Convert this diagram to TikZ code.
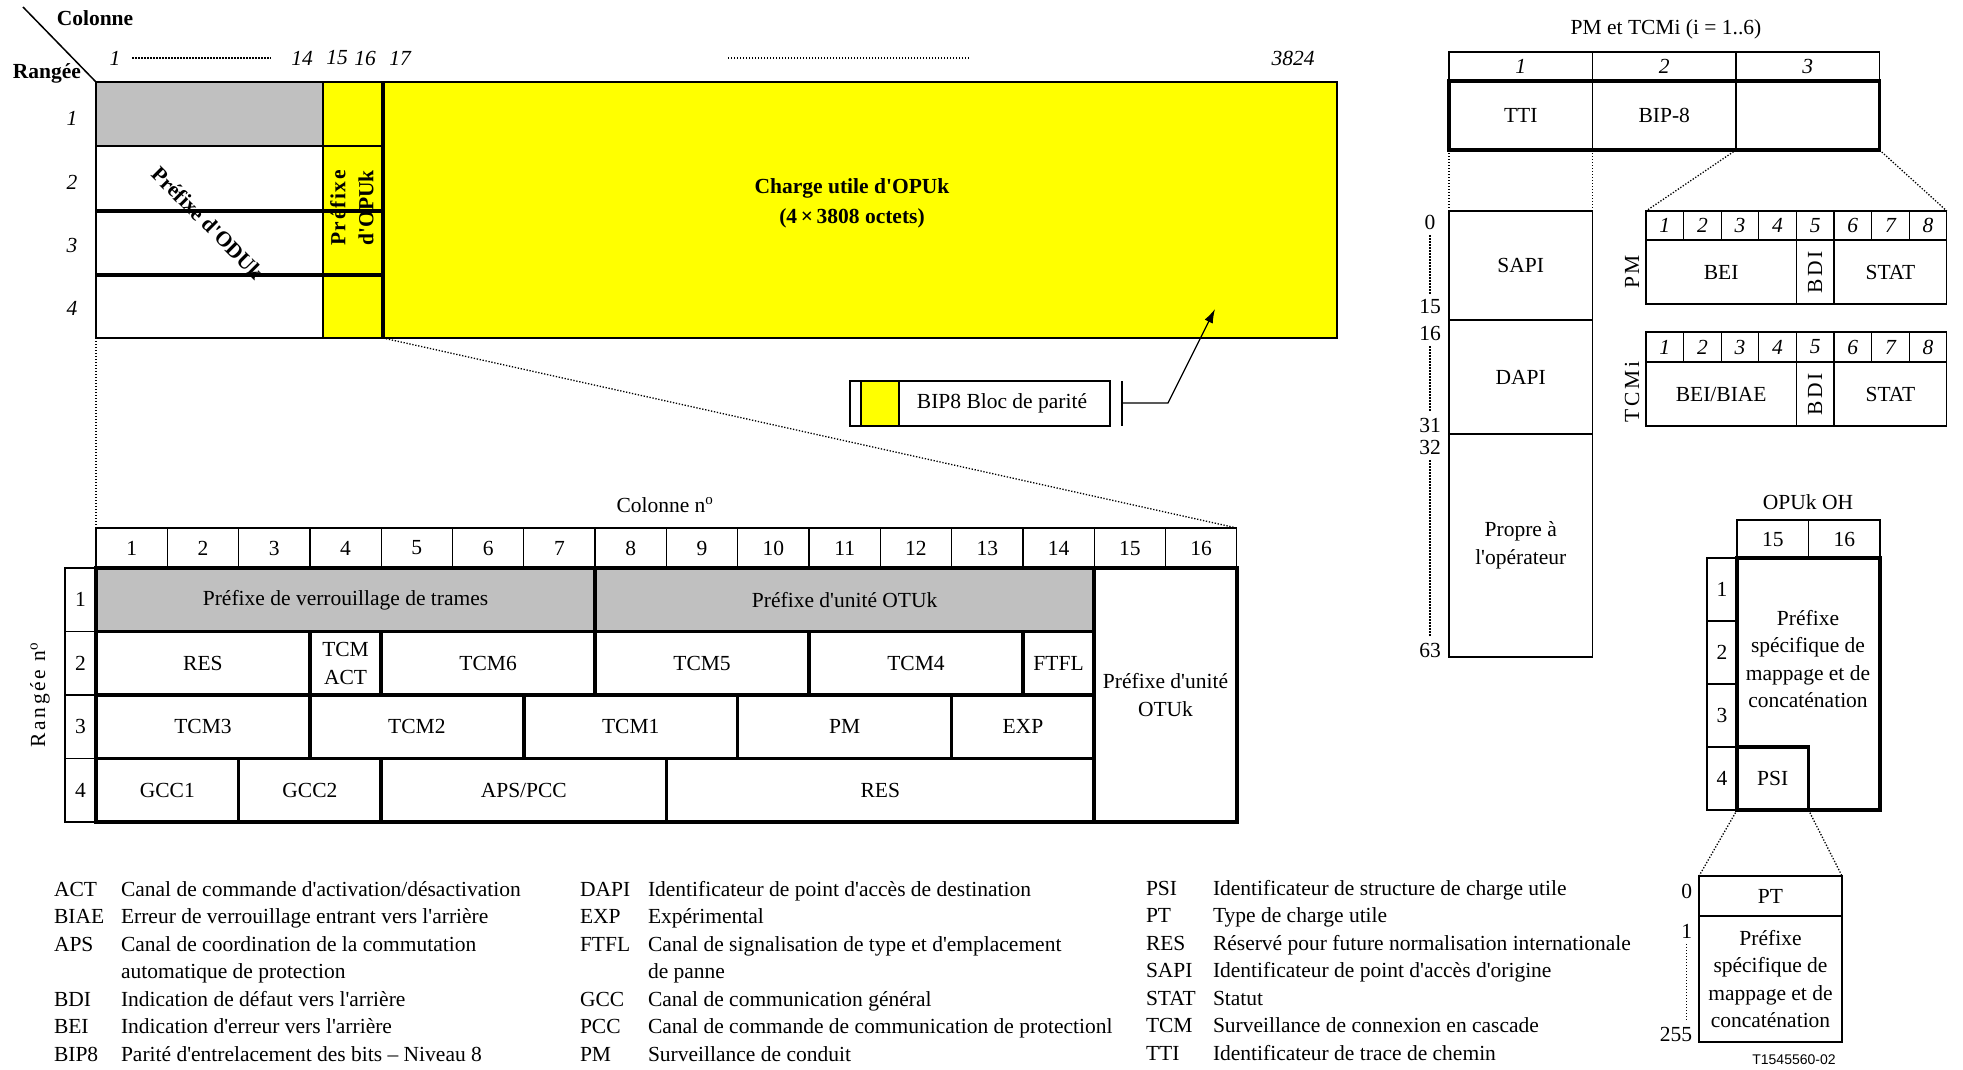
\documentclass[tikz,border=0pt]{standalone}
\usepackage{fontspec}
\setmainfont{Liberation Serif}[Ligatures=TeXOff]
\newfontfamily\figsans{Liberation Sans}
\usetikzlibrary{arrows.meta, positioning}
\definecolor{ohgray}{HTML}{C0C0C0}
\definecolor{opuyellow}{HTML}{FFFF00}

\begin{document}
\begin{tikzpicture}[
  x=1pt, y=-1pt,
  font=\fontsize{21.5}{27.5}\selectfont,
  every node/.style={inner sep=0pt, outer sep=0pt},
  cell/.style={draw, line width=1.3pt, anchor=north west, align=center},
  dat/.style={cell, line width=3.5pt},
  hdr/.style={cell, minimum height=40pt},
  num/.style={font=\fontsize{21.5}{27.5}\selectfont\itshape},
  lab/.style={font=\fontsize{21.5}{28}\selectfont\bfseries, align=center},
  spaced/.style={font=\fontsize{21.5}{27.5}\selectfont\addfontfeature{LetterSpace=12}},
  key/.style={anchor=base west},
  dots/.style={line width=1.3pt, dash pattern=on 1.3pt off 1.7pt},
  thk/.style={line width=3.5pt},
  ptr/.style={-{Latex[length=14pt, width=9pt]}, line width=1.3pt}
]
\useasboundingbox (0,0) rectangle (1963,1069);

% ODUk frame
\coordinate (corner) at (96,82);
\draw[line width=1.5pt] (corner) -- ++(-73,-75);
\node[lab] (colonne) at (95,18) {Colonne};
\node[lab] (rangee) at (47,73) {Rangée};
\node[num] (t1) at (115,58) {1};
\node[num] (t14) at (302,58) {14};
\node[num] (t15) at (337,58) {15};
\node[num] (t16) at (365,58) {16};
\node[num] (t17) at (400,58) {17};
\node[num] (t3824) at (1293,58) {3824};
\draw[dots] ([xshift=12pt]t1.east) -- ([xshift=-20pt]t14.west);
\coordinate (gapL) at (728,58);
\coordinate (gapR) at (970,58);
\draw[dots] (gapL) -- (gapR);
\foreach \r/\y in {1/118, 2/182, 3/245, 4/308}
  \node[num] (tr\r) at (72,\y) {\r};

\node[cell, fill=ohgray, minimum width=227pt, minimum height=64pt] (od1) at (corner) {};
\node[cell, minimum width=227pt, minimum height=65pt] (od2) at (od1.south west) {};
\node[cell, minimum width=227pt, minimum height=64pt] (od3) at (od2.south west) {};
\node[cell, minimum width=227pt, minimum height=63pt] (od4) at (od3.south west) {};
\node[cell, fill=opuyellow, minimum width=60pt, minimum height=256pt] (opu) at (od1.north east) {};
\node[cell, fill=opuyellow, minimum width=954pt, minimum height=256pt] (pay) at (opu.north east) {};
\draw[thk] (pay.north west) -- (pay.south west);
\draw[line width=2pt] (od1.south east) -- (od1.south east -| pay.west);
\draw[thk] (od2.south west) -- (od2.south west -| pay.west);
\draw[thk] (od3.south west) -- (od3.south west -| pay.west);
\node[lab, rotate=-45] (odulab) at (208,223) {Préfixe d'ODUk};
\node[lab, rotate=90] (opulab) at (352,208) {\addfontfeature{LetterSpace=8}Préfixe\\d'OPUk};
\node[lab, font=\fontsize{21.5}{30}\selectfont\bfseries] (paylab) at (852,203) {Charge utile d'OPUk\\(4\,×\,3808 octets)};

% BIP8 key
\node[cell, minimum width=260pt, minimum height=45pt] (bip) at (850,381) {};
\node[cell, fill=opuyellow, minimum width=38pt, minimum height=45pt] (swatch) at (861,381) {};
\node (biplab) at (1002,403) {BIP8 Bloc de parité};
\coordinate (tick) at (1122,403);
\coordinate (paritytgt) at (1215,309);
\draw[line width=1.8pt] (tick |- bip.north) -- (tick |- bip.south);
\draw[ptr] (tick) -- ++(46,0) -- (paritytgt);

% OTUk overhead
\node (colno) at (665,505) {Colonne n\textsuperscript{o}};
\foreach \i in {1,...,16}
  \node[hdr, minimum width=71.3pt] (h\i) at ({96+71.3*(\i-1)},528) {\i};
\foreach \r in {1,...,4}
  \node[cell, minimum width=31pt, minimum height=63.5pt] (rn\r) at (65,{568+63.5*(\r-1)}) {\r};
\node[spaced, rotate=90] (rangno) at (40,695) {Rangée n\textsuperscript{o}};

\foreach \cc/\ww/\lbl [count=\k] in {1/7/{Préfixe de verrouillage de trames}, 8/7/{Préfixe d'unité OTUk}}
  \node[dat, fill=ohgray, minimum width=71.3pt*\ww, minimum height=63.5pt] (ra\k) at ({96+71.3*(\cc-1)},568) {\lbl};
\foreach \cc/\ww/\lbl [count=\k] in {1/3/RES, 4/1/{TCM\\ACT}, 5/3/TCM6, 8/3/TCM5, 11/3/TCM4, 14/1/FTFL}
  \node[dat, minimum width=71.3pt*\ww, minimum height=63.5pt] (rb\k) at ({96+71.3*(\cc-1)},631.5) {\lbl};
\foreach \cc/\ww/\lbl [count=\k] in {1/3/TCM3, 4/3/TCM2, 7/3/TCM1, 10/3/PM, 13/2/EXP}
  \node[dat, minimum width=71.3pt*\ww, minimum height=63.5pt] (rc\k) at ({96+71.3*(\cc-1)},695) {\lbl};
\foreach \cc/\ww/\lbl [count=\k] in {1/2/GCC1, 3/2/GCC2, 5/4/{APS/PCC}, 9/6/RES}
  \node[dat, minimum width=71.3pt*\ww, minimum height=63.5pt] (rd\k) at ({96+71.3*(\cc-1)},758.5) {\lbl};
\node[dat, minimum width=142.6pt, minimum height=254pt] (otuk) at (h15.south west) {Préfixe d'unité\\OTUk};

\draw[dots] (od4.south west) -- (h1.north west);
\draw[dots] (opu.south east) -- (h16.north east);

% PM and TCMi
\node (pmtitle) at (1666,29) {PM et TCMi (i = 1..6)};
\foreach \i in {1,2,3}
  \node[cell, num, minimum width=143.5pt, minimum height=29pt] (b\i) at ({1449+143.5*(\i-1)},52) {\i};
\node[cell, minimum width=143.5pt, minimum height=69pt] (tti) at (b1.south west) {TTI};
\node[cell, minimum width=143.5pt, minimum height=69pt] (bip8) at (b2.south west) {BIP-8};
\node[cell, minimum width=143.5pt, minimum height=69pt] (ovh) at (b3.south west) {};
\draw[thk] (tti.north west) rectangle (ovh.south east);

\node[cell, minimum width=143.5pt, minimum height=109pt] (sapi) at (1449,211) {SAPI};
\node[cell, minimum width=143.5pt, minimum height=114pt] (dapi) at (sapi.south west) {DAPI};
\node[cell, minimum width=143.5pt, minimum height=223pt] (oper) at (dapi.south west) {Propre à\\l'opérateur};
\draw[line width=2pt] (sapi.south west) -- (sapi.south east);
\draw[line width=2pt] (dapi.south west) -- (dapi.south east);
\draw[dots] (tti.south west) -- (sapi.north west);
\draw[dots] (tti.south east) -- (sapi.north east);
\foreach \n/\y in {0/222, 15/307, 16/333, 31/425, 32/447, 63/650}
  \node (s\n) at (1430,\y) {\n};
\draw[dots, shorten <=6pt, shorten >=6pt] (s0.south) -- (s15.north);
\draw[dots, shorten <=6pt, shorten >=6pt] (s16.south) -- (s31.north);
\draw[dots, shorten <=6pt, shorten >=6pt] (s32.south) -- (s63.north);

\foreach \i in {1,...,8}
  \node[cell, num, minimum width=37.6pt, minimum height=29pt] (pm\i) at ({1646+37.6*(\i-1)},211) {\i};
\node[cell, minimum width=150.4pt, minimum height=64pt] (pmbei) at (pm1.south west) {BEI};
\node[cell, minimum width=37.6pt, minimum height=64pt] (pmbdi) at (pm5.south west) {};
\node[cell, minimum width=112.8pt, minimum height=64pt] (pmstat) at (pm6.south west) {STAT};
\node[spaced, rotate=90] (pmbditxt) at (pmbdi) {BDI};
\node[spaced, rotate=90] (pmlab) at (1632,272) {PM};

\foreach \i in {1,...,8}
  \node[cell, num, minimum width=37.6pt, minimum height=30pt] (tc\i) at ({1646+37.6*(\i-1)},332) {\i};
\node[cell, minimum width=150.4pt, minimum height=64pt] (tcbei) at (tc1.south west) {BEI/BIAE};
\node[cell, minimum width=37.6pt, minimum height=64pt] (tcbdi) at (tc5.south west) {};
\node[cell, minimum width=112.8pt, minimum height=64pt] (tcstat) at (tc6.south west) {STAT};
\node[spaced, rotate=90] (tcbditxt) at (tcbdi) {BDI};
\node[spaced, rotate=90] (tclab) at (1632,392) {TCMi};

\draw[dots] (ovh.south west) -- (pm1.north west);
\draw[dots] (ovh.south east) -- (pm8.north east);

% OPUk overhead
\node (opuoh) at (1808,502) {OPUk OH};
\node[cell, minimum width=71.5pt, minimum height=38pt] (o15) at (1737,520) {15};
\node[cell, minimum width=71.5pt, minimum height=38pt] (o16) at (o15.north east) {16};
\foreach \r in {1,...,4}
  \node[cell, minimum width=30pt, minimum height=63pt] (or\r) at (1707,{558+63*(\r-1)}) {\r};
\node[dat, minimum width=143pt, minimum height=252pt] (psm) at (o15.south west) {};
\node[align=center] (psmtxt) at (1808,659) {Préfixe\\spécifique de\\mappage et de\\concaténation};
\node[dat, minimum width=71.5pt, minimum height=63pt] (psi) at (or4.north east) {PSI};

\node[cell, minimum width=143pt, minimum height=40pt] (pt) at (1699,876) {PT};
\node[cell, minimum width=143pt, minimum height=126pt] (ptbody) at (pt.south west) {Préfixe\\spécifique de\\mappage et de\\concaténation};
\draw[dots] (psi.south west) -- (pt.north west);
\draw[dots] (psi.south east) -- (pt.north east);
\node[anchor=east] (q0) at (1692,891) {0};
\node[anchor=east] (q1) at (1692,931) {1};
\node[anchor=east] (q255) at (1692,1034) {255};
\draw[dots, shorten <=6pt, shorten >=6pt] (q1.south) -- (q1.south |- q255.north);
\node[font=\figsans\fontsize{14}{16}\selectfont] (fignum) at (1794,1060) {T1545560-02};

% abbreviations
\foreach \k/\ab/\ds in {0/ACT/{Canal de commande d'activation/désactivation}, 1/BIAE/{Erreur de verrouillage entrant vers l'arrière}, 2/APS/{Canal de coordination de la commutation}, 4/BDI/{Indication de défaut vers l'arrière}, 5/BEI/{Indication d'erreur vers l'arrière}, 6/BIP8/{Parité d'entrelacement des bits – Niveau 8}} {
  \node[key] (ka\k) at (54,{896+27.5*\k}) {\ab};
  \node[key] (da\k) at (121,{896+27.5*\k}) {\ds};
}
\node[key] (da3) at (121,978.5) {automatique de protection};
\foreach \k/\ab/\ds in {0/DAPI/{Identificateur de point d'accès de destination}, 1/EXP/{Expérimental}, 2/FTFL/{Canal de signalisation de type et d'emplacement}, 4/GCC/{Canal de communication général}, 5/PCC/{Canal de commande de communication de protectionl}, 6/PM/{Surveillance de conduit}} {
  \node[key] (kb\k) at (580,{896+27.5*\k}) {\ab};
  \node[key] (db\k) at (648,{896+27.5*\k}) {\ds};
}
\node[key] (db3) at (648,978.5) {de panne};
\foreach \k/\ab/\ds in {0/PSI/{Identificateur de structure de charge utile}, 1/PT/{Type de charge utile}, 2/RES/{Réservé pour future normalisation internationale}, 3/SAPI/{Identificateur de point d'accès d'origine}, 4/STAT/{Statut}, 5/TCM/{Surveillance de connexion en cascade}, 6/TTI/{Identificateur de trace de chemin}} {
  \node[key] (kc\k) at (1146,{895+27.5*\k}) {\ab};
  \node[key] (dc\k) at (1213,{895+27.5*\k}) {\ds};
}
\end{tikzpicture}
\end{document}
